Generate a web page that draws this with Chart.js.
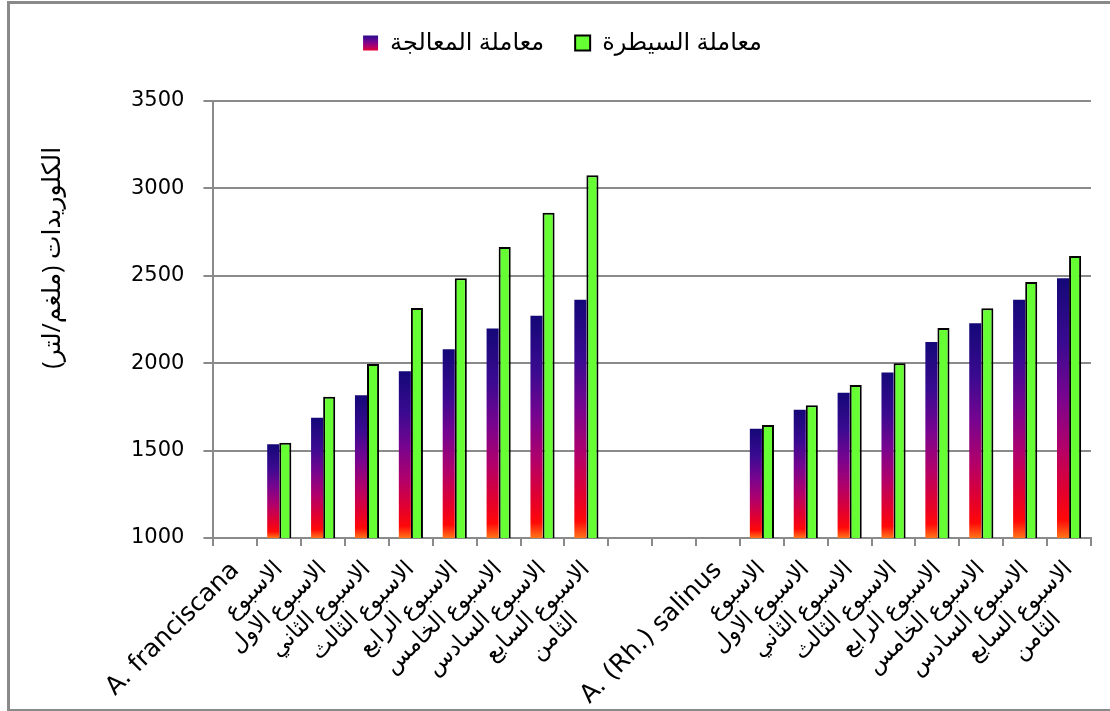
<!DOCTYPE html>
<html>
<head>
<meta charset="utf-8">
<script src="https://cdn.jsdelivr.net/npm/chart.js@4/dist/chart.umd.min.js"></script>
<style>
  body { margin: 0; background: #fff; }
  #wrap { position: relative; width: 1110px; height: 711px; overflow: hidden; }
  #frame { position: absolute; left: 7px; top: 1px; width: 1200px; height: 705px; border: 3px solid #8a8a8a; pointer-events: none; }
  canvas { position: absolute; left: 0; top: 0; }
</style>
</head>
<body>
<div id="wrap">
  <canvas id="chart" width="1110" height="711"></canvas>
  <div id="frame"></div>
</div>
<script>
// Chart data
const categories = [
    'A. franciscana',
    ['الاسبوع', 'الاول'],
    ['الاسبوع', 'الثاني'],
    ['الاسبوع', 'الثالث'],
    ['الاسبوع', 'الرابع'],
    ['الاسبوع', 'الخامس'],
    ['الاسبوع', 'السادس'],
    ['الاسبوع', 'السابع'],
    ['الاسبوع', 'الثامن'],
    '',
    '',
    'A. (Rh.) salinus',
    ['الاسبوع', 'الاول'],
    ['الاسبوع', 'الثاني'],
    ['الاسبوع', 'الثالث'],
    ['الاسبوع', 'الرابع'],
    ['الاسبوع', 'الخامس'],
    ['الاسبوع', 'السادس'],
    ['الاسبوع', 'السابع'],
    ['الاسبوع', 'الثامن']
];

const treatedValues = [null, 1536, 1688, 1816, 1954, 2079, 2198, 2272, 2363, null, null,
    null, 1625, 1734, 1831, 1946, 2121, 2228, 2363, 2486];
const controlValues = [null, 1545, 1808, 1995, 2316, 2486, 2665, 2861, 3075, null, null,
    null, 1646, 1759, 1875, 2000, 2201, 2314, 2465, 2613];

const seriesNames = ['معاملة المعالجة', 'معاملة السيطرة'];
const yTitle = 'الكلوريدات (ملغم/لتر)';
const yMin = 1000;
const yMax = 3500;
const yStep = 500;

const FONT = '"Open Sans", "DejaVu Sans", sans-serif';
const DEJAVU = '"DejaVu Sans", sans-serif';

// second line of each week label sits lower along the slant, like the original
const tickLabels = categories.map(function(c) {
    return Array.isArray(c) ? [c[0], c[1] + '      '] : c;
});

// leading blanks push the rotated axis title up a bit (it is not centred in the original)
const yTitleText = '\u00A0'.repeat(19) + '\u200F' + yTitle + '\u200F';

function treatedGradient(ctx, top, bottom) {
    const g = ctx.createLinearGradient(0, top, 0, bottom);
    g.addColorStop(0, '#140878');
    g.addColorStop(0.25, '#3a0a90');
    g.addColorStop(0.45, '#760490');
    g.addColorStop(0.65, '#b2006a');
    g.addColorStop(0.82, '#e2002e');
    g.addColorStop(0.93, '#ff0808');
    g.addColorStop(1, '#ff7418');
    return g;
}

// extra room under the legend
const legendSpacer = {
    id: 'legendSpacer',
    beforeInit: function(chart) {
        const origFit = chart.legend.fit;
        chart.legend.fit = function fit() {
            origFit.bind(chart.legend)();
            this.height += 36;
        };
    }
};

// gradient swatch for the first legend entry
const legendGradient = {
    id: 'legendGradient',
    beforeDraw: function(chart) {
        const legend = chart.legend;
        if (!legend || !legend.legendHitBoxes.length) return;
        const box = legend.legendHitBoxes[0];
        legend.legendItems[0].fillStyle = treatedGradient(chart.ctx, box.top, box.top + box.height);
    }
};

const ctx = document.getElementById('chart').getContext('2d');
new Chart(ctx, {
    type: 'bar',
    data: {
        labels: tickLabels,
        datasets: [{
            label: seriesNames[0],
            data: treatedValues,
            backgroundColor: function(context) {
                const chart = context.chart;
                if (!chart.chartArea || context.type !== 'data' || context.raw == null) {
                    return '#6a0890';
                }
                const yScale = chart.scales.y;
                return treatedGradient(chart.ctx, yScale.getPixelForValue(context.raw), yScale.bottom);
            },
            borderWidth: 0
        }, {
            label: seriesNames[1],
            data: controlValues,
            backgroundColor: '#66ff33',
            borderColor: '#000000',
            borderWidth: 2
        }]
    },
    options: {
        responsive: false,
        animation: false,
        categoryPercentage: 0.55,
        barPercentage: 1.0,
        layout: {
            padding: { left: 34, right: 19, top: 0, bottom: -27 }
        },
        plugins: {
            legend: {
                position: 'top',
                labels: {
                    color: '#000',
                    font: { family: FONT, size: 24 },
                    boxWidth: 15,
                    boxHeight: 15,
                    padding: 31
                }
            },
            tooltip: { enabled: false }
        },
        scales: {
            x: {
                afterFit: function(scale) {
                    // slanted labels never reach past the right edge, no need to reserve room
                    scale.paddingRight = 0;
                },
                grid: {
                    display: true,
                    drawOnChartArea: false,
                    drawTicks: true,
                    tickLength: 8,
                    color: '#8a8a8a',
                    lineWidth: 2
                },
                border: { color: '#8a8a8a', width: 2 },
                ticks: {
                    color: '#000',
                    font: function(context) {
                        // latin species names are a little larger than the arabic week labels
                        const label = categories[context.index];
                        return { family: DEJAVU, size: typeof label === 'string' ? 25 : 23 };
                    },
                    minRotation: 45,
                    maxRotation: 45,
                    autoSkip: false,
                    padding: 10
                }
            },
            y: {
                min: yMin,
                max: yMax,
                grid: {
                    color: '#8a8a8a',
                    lineWidth: 2,
                    tickLength: 10
                },
                border: { color: '#8a8a8a', width: 2 },
                ticks: {
                    stepSize: yStep,
                    color: '#000',
                    font: { family: DEJAVU, size: 21 },
                    padding: 19,
                    callback: function(value) {
                        return String(value);
                    }
                },
                title: {
                    display: true,
                    text: yTitleText,
                    color: '#000',
                    font: { family: FONT, size: 25 },
                    padding: { top: 4, bottom: 44 }
                }
            }
        }
    },
    plugins: [legendSpacer, legendGradient]
});
</script>
</body>
</html>
